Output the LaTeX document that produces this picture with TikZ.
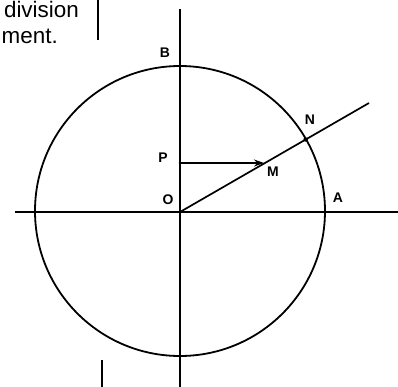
\documentclass[tikz,border=0pt]{standalone}
\usepackage{fontspec}
\setmainfont{Liberation Sans}
\usetikzlibrary{arrows.meta}
\begin{document}
\begin{tikzpicture}[x=1bp,y=-1bp,
  axis/.style={line width=1.8bp,black},
  ray/.style={line width=1.7bp,black},
  lbl/.style={font=\fontsize{14}{14}\selectfont\bfseries,inner sep=0pt},
  body/.style={font=\fontsize{22.5}{22.5}\selectfont,inner sep=0pt,anchor=base east},
  bar/.style={line width=1.5bp,black}]
\useasboundingbox (0,0) rectangle (398,387);
\coordinate (O) at (180,212);
\coordinate (P) at (180,163);
\coordinate (M) at (264,163);
\coordinate (N) at (305.6,139.5);
\coordinate (E) at (369,103);
\coordinate (Vt) at (180,9);
\coordinate (Vb) at (180,387);
\coordinate (Hl) at (15,212);
\coordinate (Hr) at (398,212);
\node[body] (t1) at (79,17) {division};
\node[body] (t2) at (58,43) {ment.};
\coordinate (b1t) at (98,0);
\coordinate (b1b) at (98,40);
\coordinate (b2t) at (102,360);
\coordinate (b2b) at (102,387);
\draw[bar] (b1t) -- (b1b);
\draw[bar] (b2t) -- (b2b);
\draw[axis] (180,211) circle[radius=145];
\draw[axis] (Vt) -- (Vb);
\draw[axis] (Hl) -- (Hr);
\draw[ray] (O) -- (E);
\draw[line width=1.2bp,-{Stealth[length=10bp,width=7bp]}] (P) -- (M);
\fill (N) circle[radius=2.2bp];
\fill (P) circle[radius=1.3bp];
\node[lbl] (lB) at (165,53) {B};
\node[lbl] (lP) at (163,158) {P};
\node[lbl] (lO) at (168,200) {O};
\node[lbl] (lM) at (273,172) {M};
\node[lbl] (lN) at (310,120) {N};
\node[lbl] (lA) at (338,198) {A};
\end{tikzpicture}
\end{document}
